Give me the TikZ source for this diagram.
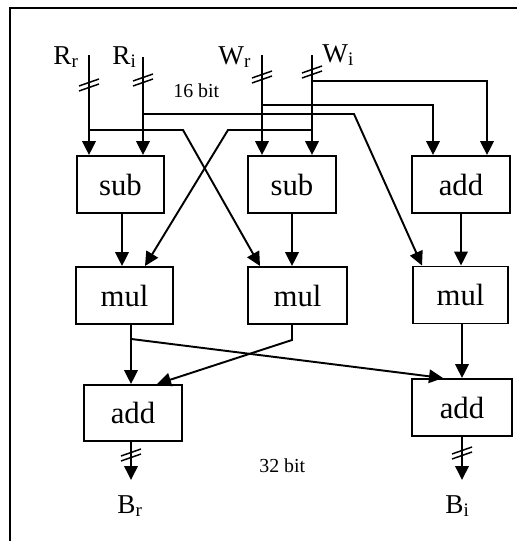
\documentclass[tikz,border=0pt]{standalone}
\usepackage{fontspec}
\setmainfont{Liberation Serif}
\usetikzlibrary{arrows.meta,calc}
\tikzset{
  >={Triangle[length=0.28cm,width=0.27cm]},
  wire/.style={line width=1.1pt},
  unit/.style={draw, line width=1.1pt, minimum height=1.14cm, inner sep=0pt,
               font=\fontsize{17.5}{20}\selectfont},
  sig/.style={inner sep=0pt, anchor=base west, font=\fontsize{15.5}{18}\selectfont},
  bitlabel/.style={inner sep=0pt, anchor=base west, font=\fontsize{11.3}{13}\selectfont},
  bus/.pic={\draw[line width=0.85pt] (-10,1) -- (10,-6) (-10,6) -- (10,-1);}
}

\begin{document}
\begin{tikzpicture}[x=0.02cm, y=-0.02cm]
\useasboundingbox (0,0) rectangle (517,541);

% frame, cut off at right and bottom
\draw[line width=1pt] (10,541) -- (10,8) -- (517,8);

% ------------------------------------------------------------
% INPUTS
% ------------------------------------------------------------
\coordinate (Rr) at (89,55);
\coordinate (Ri) at (143,57);
\coordinate (Wr) at (262,55);
\coordinate (Wi) at (312,55);

\node[sig] (RrLab) at (53,64) {R\textsubscript{r}};
\node[sig] (RiLab) at (112,64) {R\textsubscript{i}};
\node[sig] (WrLab) at (218,64) {W\textsubscript{r}};
\node[sig] (WiLab) at (322,62) {W\textsubscript{i}};

\node[bitlabel] (bits16) at (173,97) {16 bit};

% ------------------------------------------------------------
% UNITS
% ------------------------------------------------------------
\node[unit, minimum width=1.74cm] (sub1) at (120.5,184.5) {sub};
\node[unit, minimum width=1.76cm] (sub2) at (292,184.5) {sub};
\node[unit, minimum width=1.96cm] (addT) at (461,184.5) {add};

\node[unit, minimum width=1.94cm] (mul1) at (124.5,295.5) {mul};
\node[unit, minimum width=1.98cm] (mul2) at (297.5,295.5) {mul};
\node[unit, minimum width=1.90cm] (mul3) at (460.5,295) {mul};

\node[unit, minimum width=1.96cm, minimum height=1.12cm] (addL) at (133,413) {add};
\node[unit, minimum width=2.00cm] (addR) at (462,407.5) {add};

% ------------------------------------------------------------
% INPUT WIRES
% ------------------------------------------------------------
\draw[wire,->] (Rr) -- (Rr |- sub1.north);
\draw[wire,->] (Ri) -- (Ri |- sub1.north);
\draw[wire,->] (Wr) -- (Wr |- sub2.north);
\draw[wire,->] (Wi) -- (Wi |- sub2.north);

\pic at (Rr |- 0,85) {bus};
\pic at (Ri |- 0,80) {bus};
\pic at (Wr |- 0,77) {bus};
\pic at (Wi |- 0,72) {bus};

\coordinate (RrTurn) at (183,130);
\coordinate (WiTurn) at (228,130);
\coordinate (RiTurn) at (354,114);
\coordinate (WrTurn) at (433,105);
\coordinate (WiTurnB) at (487,81);

\draw[wire,->] (Rr |- RrTurn) -- (RrTurn) -- ([xshift=-0.75cm]mul2.north);
\draw[wire,->] (Wi |- WiTurn) -- (WiTurn) -- ([xshift=0.41cm]mul1.north);
\draw[wire,->] (Ri |- RiTurn) -- (RiTurn) -- ([xshift=-0.77cm]mul3.north);
\draw[wire,->] (Wr |- WrTurn) -- (WrTurn) -- (WrTurn |- addT.north);
\draw[wire,->] (Wi |- WiTurnB) -- (WiTurnB) -- (WiTurnB |- addT.north);

% ------------------------------------------------------------
% INTERNAL WIRES
% ------------------------------------------------------------
\coordinate (s1out) at ([xshift=0.03cm]sub1.south);
\draw[wire,->] (s1out) -- (s1out |- mul1.north);
\draw[wire,->] (sub2.south) -- (sub2.south |- mul2.north);
\draw[wire,->] (addT.south) -- (addT.south |- mul3.north);

\coordinate (m1out) at ([xshift=0.13cm]mul1.south);
\coordinate (m1split) at ($(m1out)+(0,14)$);
\coordinate (m2bend) at (292,340);

\draw[wire,->] (m1out) -- (m1out |- addL.north);
\draw[wire,->] (m1split) -- ([xshift=-0.38cm]addR.north);
\draw[wire,->] (m2bend |- mul2.south) -- (m2bend) -- ([xshift=0.48cm]addL.north);
\draw[wire,->] (addR.north |- mul3.south) -- (addR.north);

% ------------------------------------------------------------
% OUTPUTS
% ------------------------------------------------------------
\coordinate (BrOut) at (131,480);
\coordinate (BiOut) at (462,480);
\draw[wire,->] (BrOut |- addL.south) -- (BrOut);
\draw[wire,->] (BiOut |- addR.south) -- (BiOut);

\pic at (BrOut |- 0,455) {bus};
\pic at (BiOut |- 0,453) {bus};

\node[sig] (BrLab) at (117,513) {B\textsubscript{r}};
\node[sig] (BiLab) at (445,513) {B\textsubscript{i}};

\node[bitlabel] (bits32) at (259,472) {32 bit};

\end{tikzpicture}
\end{document}
